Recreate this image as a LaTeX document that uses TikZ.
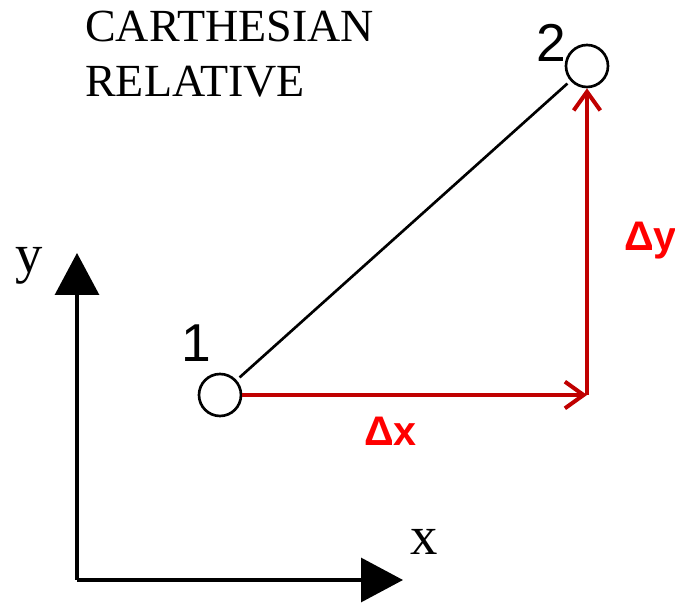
\documentclass[tikz,border=0pt]{standalone}
\usepackage{fontspec}
\setmainfont{Liberation Serif}
\setsansfont{Liberation Sans}
\usetikzlibrary{arrows.meta}
\definecolor{arrowred}{RGB}{192,0,0}
\definecolor{labelred}{RGB}{255,0,0}
\begin{document}
\begin{tikzpicture}[x=0.75pt,y=-0.75pt,
  pt/.style={circle,draw,line width=2pt,minimum size=31.5pt,inner sep=0pt},
  ptlabel/.style={anchor=base,inner sep=0pt,font=\sffamily\fontsize{40}{40}\selectfont},
  axis/.style={line width=2.4pt,-{Triangle[length=31.5pt,width=33pt]}},
  axlabel/.style={anchor=base west,inner sep=0pt,font=\fontsize{41}{41}\selectfont},
  delta/.style={line width=3pt,arrowred,-{Straight Barb[length=14pt,width=20pt,line width=3pt]}},
  dlabel/.style={anchor=base west,inner sep=0pt,labelred,font=\sffamily\bfseries\fontsize{31}{31}\selectfont}]
  \useasboundingbox (0,0) rectangle (675,605);
  % title
  \node[anchor=base west,inner sep=0pt,font=\fontsize{34.5}{34.5}\selectfont] (title1) at (85,42) {CARTHESIAN};
  \node[anchor=base west,inner sep=0pt,font=\fontsize{34.5}{34.5}\selectfont] (title2) at (85,97) {RELATIVE};
  % points
  \node[pt] (p1) at (220,395) {};
  \node[pt] (p2) at (587,66) {};
  \node[ptlabel] (l1) at (196,362) {1};
  \node[ptlabel] (l2) at (551,62) {2};
  \coordinate (corner) at (587,395);
  \draw[line width=2pt,shorten <=3pt,shorten >=3pt] (p1) -- (p2);
  \draw[delta] (p1) -- (corner);
  \draw[delta] (corner) -- (p2);
  \node[dlabel] (dx) at (364,446) {Δx};
  \node[dlabel] (dy) at (624,251) {Δy};
  % axes
  \coordinate (o) at (77,580);
  \coordinate (ytip) at (77,253);
  \coordinate (xtip) at (403,580);
  \draw[axis] (o) -- (ytip);
  \draw[axis] (o) -- (xtip);
  \node[axlabel] (ylab) at (15,273) {y};
  \node[axlabel] (xlab) at (410,555) {x};
\end{tikzpicture}
\end{document}
